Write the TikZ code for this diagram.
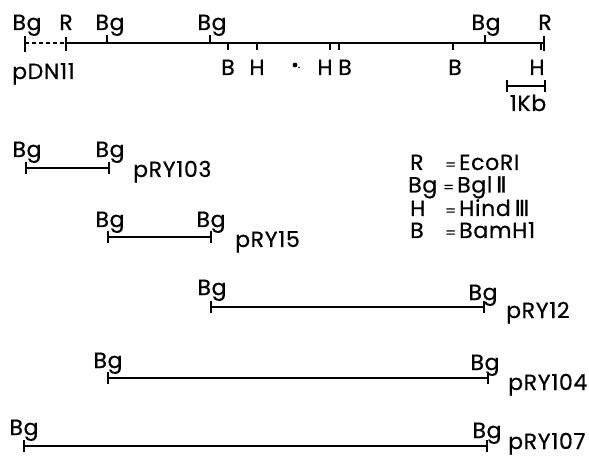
\documentclass[tikz,border=0pt]{standalone}
\usepackage{fontspec}
\setmainfont{Poppins}[LetterSpace=3, FakeBold=0.6]
\newfontfamily\romnum{DejaVu Sans}[FakeBold=1.2]
\newcommand\labfont{\fontsize{22}{26}\selectfont}
\newcommand\eqsign{{\fontsize{15}{15}\selectfont =}}
\tikzset{
  dna/.style={line width=1.4pt},
  sitetick/.style={line width=1.3pt},
  lbl/.style={inner sep=0pt, anchor=base, font=\labfont},
  lblw/.style={inner sep=0pt, anchor=base west, font=\labfont},
}
\begin{document}
\begin{tikzpicture}[x=1pt, y=-1pt]
\useasboundingbox (0,0) rectangle (589,457);

% ---------- restriction map of pDN11 ----------
\coordinate (Bg1) at (25,43);
\coordinate (R1)  at (66,43);
\coordinate (Bg2) at (107,43);
\coordinate (Bg3) at (210,43);
\coordinate (B1)  at (228,43);
\coordinate (H1)  at (257,43);
\coordinate (H2)  at (330,43);
\coordinate (B2)  at (339,43);
\coordinate (B3)  at (453,43);
\coordinate (Bg4) at (485,43);
\coordinate (H3)  at (541,43);
\coordinate (R2)  at (544,43);

\draw[dna, dashed, dash pattern=on 4pt off 3pt] (Bg1) -- (R1);
\draw[dna] (R1) -- (R2);
% sites crossing the line
\draw[sitetick] (25,36) -- (25,52);
\draw[sitetick] (66,37) -- (66,51);
\draw[sitetick] (544,36) -- (544,51);
% BglII sites above
\foreach \s in {Bg2,Bg3,Bg4} \draw[sitetick] (\s) -- ++(0,-8);
% BamHI / HindIII sites below
\foreach \s in {B1,H1,H2,B2,B3,H3} \draw[sitetick] (\s) -- ++(0,7);

\node[lbl] (tBg1) at (27,30) {Bg};
\node[lbl] (tR1)  at (66,30) {R};
\node[lbl] (tBg2) at (110,30) {Bg};
\node[lbl] (tBg3) at (212,30) {Bg};
\node[lbl] (tBg4) at (486,30) {Bg};
\node[lbl] (tR2)  at (545,30) {R};
\node[lbl] (tB1)  at (228,75) {B};
\node[lbl] (tH1)  at (257,75) {H};
\node[lbl] (tH2)  at (325,75) {H};
\node[lbl] (tB2)  at (345,75) {B};
\node[lbl] (tB3)  at (455,75) {B};
\node[lbl] (tH3)  at (537,75) {H};
\node[lblw] (pDN) at (12,79) {pDN11};
\fill (295,65) circle (2.4pt);
\fill (299,67.5) circle (0.8pt);

% ---------- scale bar ----------
\coordinate (sbL) at (507,86);
\coordinate (sbR) at (545,86);
\draw[dna] (sbL) -- (sbR);
\draw[sitetick] (507,80) -- (507,92);
\draw[sitetick] (545,80) -- (545,92);
\node[lbl] (kb) at (528,111) {1Kb};

% ---------- key ----------
\node[lblw] (kR)  at (410,170) {R};
\node[lblw] (eR)  at (445,170) {\eqsign};
\node[lblw] (vR)  at (459,170) {EcoRI};
\node[lblw] (kBg) at (408,192.5) {Bg};
\node[lblw] (eBg) at (443,192.5) {\eqsign};
\node[lblw] (vBg) at (457,192.5) {Bgl\,{\romnum Ⅱ}};
\node[lblw] (kH)  at (410,216) {H};
\node[lblw] (eH)  at (445,216) {\eqsign};
\node[lblw] (vH)  at (459,216) {Hind\,{\romnum Ⅲ}};
\node[lblw] (kB)  at (410,238) {B};
\node[lblw] (eB)  at (445,238) {\eqsign};
\node[lblw] (vB)  at (459,238) {BamH1};

% ---------- subclones ----------
% pRY103
\coordinate (a1) at (26,168);  \coordinate (a2) at (109,168);
\draw[dna] (a1) -- (a2);
\draw[sitetick] (26,162) -- (26,174);  \draw[sitetick] (109,162) -- (109,174);
\node[lbl] at (27,157) {Bg};  \node[lbl] at (110,157) {Bg};
\node[lblw] (n103) at (133,177) {pRY103};

% pRY15
\coordinate (b1) at (108,237); \coordinate (b2) at (211,237);
\draw[dna] (b1) -- (b2);
\draw[sitetick] (108,231) -- (108,243); \draw[sitetick] (211,231) -- (211,243);
\node[lbl] at (110,227) {Bg};  \node[lbl] at (211,227) {Bg};
\node[lblw] (n15) at (235,247) {pRY15};

% pRY12
\coordinate (c1) at (211,307); \coordinate (c2) at (484,307);
\draw[dna] (c1) -- (c2);
\draw[sitetick] (211,301) -- (211,313); \draw[sitetick] (484,301) -- (484,313);
\node[lbl] at (212,295) {Bg};  \node[lbl] at (483,300) {Bg};
\node[lblw] (n12) at (506,318) {pRY12};

% pRY104
\coordinate (d1) at (108,378); \coordinate (d2) at (488,378);
\draw[dna] (d1) -- (d2);
\draw[sitetick] (108,372) -- (108,384); \draw[sitetick] (488,372) -- (488,384);
\node[lbl] at (108,368) {Bg};  \node[lbl] at (485,370) {Bg};
\node[lblw] (n104) at (508,390) {pRY104};

% pRY107
\coordinate (e1) at (24,446); \coordinate (e2) at (487,446);
\draw[dna] (e1) -- (e2);
\draw[sitetick] (24,440) -- (24,452); \draw[sitetick] (487,440) -- (487,452);
\node[lbl] at (24,435) {Bg};  \node[lbl] at (487,438) {Bg};
\node[lblw] (n107) at (508,449) {pRY107};
\end{tikzpicture}
\end{document}
